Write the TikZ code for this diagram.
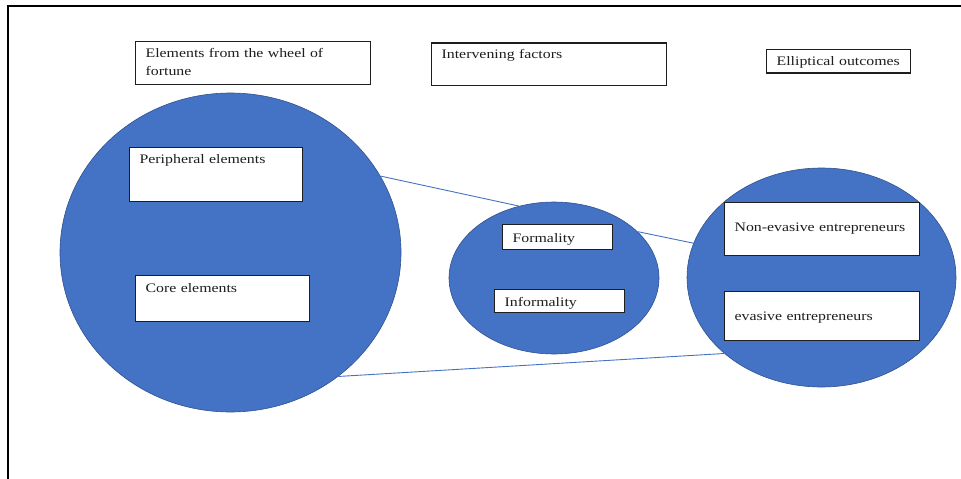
\documentclass[tikz,border=0pt]{standalone}
\usepackage{fontspec}
\setmainfont[FakeStretch=1.22,WordSpace=0.6]{Liberation Serif}
\usetikzlibrary{shapes.geometric}
\definecolor{blobfill}{HTML}{4472C4}
\definecolor{blobedge}{HTML}{2F528F}
\definecolor{inkgray}{HTML}{1E1E1E}
\tikzset{
  blob/.style={ellipse, draw=blobedge, line width=0.6pt, fill=blobfill, inner sep=0pt},
  tbox/.style={draw=inkgray, line width=1.2pt, fill=white, inner xsep=10pt, inner ysep=0pt,
    align=left, anchor=north west, text=inkgray,
    font=\fontsize{13}{18.6}\selectfont},
  link/.style={draw=blobfill, line width=0.9pt},
  frame/.style={draw=black, line width=2pt}
}
\begin{document}
\begin{tikzpicture}[x=1pt,y=-1pt]
  \useasboundingbox (0,0) rectangle (961,479);
  % outer frame (top and left edges only)
  \draw[frame] (8.3,479) -- (8.3,5.7) -- (961,5.7);

  % column headings
  \node[tbox, text width=215pt, text height=16pt, text depth=27.3pt] (wheel) at (135,40.7)
    {Elements from the wheel of\\fortune};
  \node[tbox, text width=215pt, text height=16pt, text depth=26.7pt] (interv) at (431,42.3)
    {Intervening factors};
  \node[tbox, text width=124pt, text height=16pt, text depth=7.3pt] (ellip) at (766,49)
    {Elliptical outcomes};

  % the three groups
  \node[blob, minimum width=341pt, minimum height=319pt] (big) at (230.5,252.5) {};
  \node[blob, minimum width=210pt, minimum height=152pt] (mid) at (554,278) {};
  \node[blob, minimum width=269pt, minimum height=219pt] (out) at (821.5,277.5) {};

  % connectors between groups
  \draw[link] (big.27) -- (mid.116);
  \draw[link] (mid.29) -- (out.165);
  \draw[link] (big.-49) -- (out.218);

  % items inside the groups
  \node[tbox, text width=153pt, text height=16.3pt, text depth=37.7pt] (periph) at (129,147)
    {Peripheral elements};
  \node[tbox, text width=154pt, text height=17.3pt, text depth=28.7pt] (core) at (135,275)
    {Core elements};
  \node[tbox, text width=90pt, text height=17.7pt, text depth=7.3pt] (formal) at (502,224)
    {Formality};
  \node[tbox, text width=110pt, text height=17pt, text depth=6pt] (informal) at (494,289)
    {Informality};
  \node[tbox, text width=175pt, text height=29pt, text depth=24pt] (nonev) at (724,202)
    {Non-evasive entrepreneurs};
  \node[tbox, text width=175pt, text height=29pt, text depth=20pt] (evas) at (724,291)
    {evasive entrepreneurs};
\end{tikzpicture}
\end{document}
